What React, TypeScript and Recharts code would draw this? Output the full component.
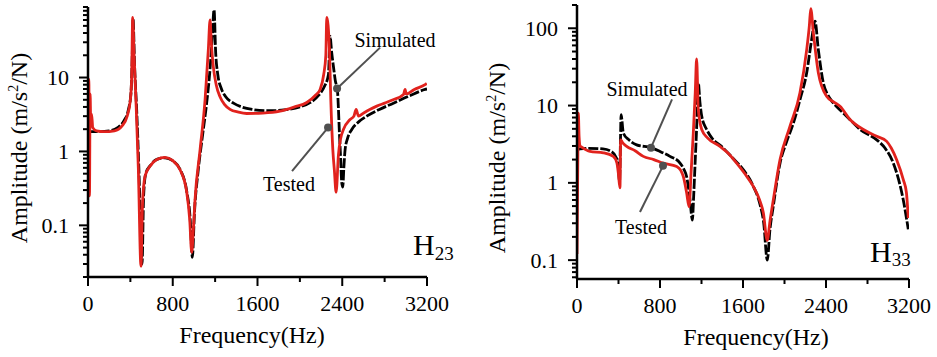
import React from "react";
import { LineChart, Line, XAxis, YAxis, ReferenceLine, ReferenceDot } from "recharts";

// frequency axis (Hz)
const freqTicks = [0, 400, 800, 1200, 1600, 2000, 2400, 2800, 3200];
const freqLabels = [0, 800, 1600, 2400, 3200];

// amplitude axis ticks (log)
const h23Ticks = [
  0.02, 0.03, 0.04, 0.05, 0.06, 0.07, 0.08, 0.09,
  0.1, 0.2, 0.3, 0.4, 0.5, 0.6, 0.7, 0.8, 0.9,
  1, 2, 3, 4, 5, 6, 7, 8, 9,
  10, 20, 30, 40, 50, 60, 70, 80, 90,
];
const h23Labels = [0.1, 1, 10];
const h33Ticks = [
  0.06, 0.07, 0.08, 0.09,
  0.1, 0.2, 0.3, 0.4, 0.5, 0.6, 0.7, 0.8, 0.9,
  1, 2, 3, 4, 5, 6, 7, 8, 9,
  10, 20, 30, 40, 50, 60, 70, 80, 90,
  100, 200,
];
const h33Labels = [0.1, 1, 10, 100];

// H23 simulated
const h23SimFreq = [
  0, 10, 40, 100, 200, 280, 340, 380, 405, 418, 425, 440, 460, 480, 495, 510,
  525, 545, 590, 650, 727, 800, 870, 930, 965, 985, 1005, 1040, 1080, 1120, 1150,
  1170, 1190, 1205, 1225, 1260, 1300, 1373, 1450, 1550, 1700, 1850, 2000, 2100,
  2180, 2230, 2270, 2285, 2300, 2317, 2335, 2354, 2365, 2373, 2385, 2395, 2405,
  2415, 2427, 2450, 2490, 2560, 2631, 2750, 2883, 3030, 3182, 3200,
];
const h23SimAmp = [
  1.8, 1.85, 1.85, 1.85, 1.9, 2.1, 2.6, 3.6, 6, 20, 62, 14, 3.5, 0.6, 0.12, 0.03,
  0.25, 0.5, 0.65, 0.78, 0.82, 0.75, 0.57, 0.3, 0.12, 0.037, 0.15, 0.55, 1.6, 4.5, 12,
  30, 82, 22, 11, 7, 5.5, 4.5, 4.0, 3.7, 3.55, 3.65, 4.0, 4.6,
  5.8, 7.5, 11, 36, 22, 14, 9, 6.9, 3.5, 1.8, 0.8, 0.38, 0.33,
  0.6, 1.06, 1.5, 1.98, 2.55, 3.0, 3.7, 4.5, 5.6, 6.9, 7.0,
];

// H23 tested
const h23TestFreq = [
  0, 8, 14, 20, 26, 34, 45, 80, 150, 250, 320, 370, 400, 412, 422, 435, 455, 475,
  500, 515, 538, 585, 650, 727, 800, 868, 932, 960, 979, 995, 1010, 1058, 1105,
  1136, 1152, 1165, 1183, 1210, 1246, 1290, 1341, 1420, 1498, 1650, 1813, 1950,
  2065, 2150, 2191, 2225, 2245, 2254, 2279, 2292, 2311, 2326, 2342, 2364, 2385,
  2411, 2474, 2510, 2531, 2553, 2600, 2660, 2726, 2800, 2880, 2978, 2993, 3005,
  3080, 3182, 3198,
];
const h23TestAmp = [
  2.0, 9.5, 0.25, 6, 2.4, 3.2, 2.1, 1.9, 1.85, 1.9, 2.2, 3.0, 5, 10, 65, 20, 4, 0.6,
  0.028, 0.2, 0.46, 0.63, 0.78, 0.83, 0.75, 0.57, 0.28, 0.12, 0.043, 0.09, 0.22, 1.06, 5,
  24, 60, 28, 14, 8, 5.5, 4.3, 3.7, 3.4, 3.26, 3.3, 3.5, 4.0,
  4.6, 5.8, 6.9, 11, 20, 65, 24, 5, 1.06, 0.55, 0.28, 0.9, 1.5,
  1.98, 2.7, 3.0, 3.7, 3.0, 3.3, 3.7, 4.1, 4.5, 5.0, 5.9, 6.9, 6.0,
  6.9, 8.0, 8.3,
];

// H33 simulated
const h33SimFreq = [
  0, 10, 30, 100, 250, 330, 380, 400, 410, 418, 425, 447, 500, 575, 713, 800, 896,
  993, 1030, 1057, 1089, 1112, 1125, 1137, 1155, 1169, 1185, 1202, 1250, 1300, 1400,
  1500, 1600, 1700, 1760, 1800, 1834, 1860, 1892, 1957, 2020, 2085, 2150, 2214, 2262,
  2294, 2326, 2374, 2420, 2470, 2567, 2650, 2728, 2889, 2970, 3049, 3100, 3145, 3193,
];
const h33SimAmp = [
  2.6, 2.7, 2.75, 2.8, 2.75, 2.55, 2.1, 1.5, 1.0, 3, 7.6, 4.4, 3.6, 3.1, 2.85, 2.55, 2.2,
  1.8, 1.5, 1.2, 0.6, 0.33, 0.7, 1.63, 6, 19.7, 11, 7.3, 4.9, 3.8, 2.9,
  2.1, 1.5, 0.9, 0.55, 0.3, 0.1, 0.25, 0.5, 1.8, 3.4, 5.9, 12, 26.6, 72,
  124, 53, 19.7, 13.5, 10.8, 8.0, 6.2, 4.9, 3.6, 2.8, 1.8, 1.1, 0.6, 0.25,
];

// H33 tested
const h33TestFreq = [
  0, 8, 13, 20, 30, 45, 125, 254, 350, 385, 398, 414, 421, 440, 479, 560, 639, 740,
  832, 961, 1000, 1025, 1057, 1080, 1100, 1121, 1140, 1153, 1169, 1202, 1260, 1378,
  1460, 1539, 1620, 1699, 1760, 1796, 1834, 1860, 1892, 1957, 2053, 2149, 2214, 2240,
  2253, 2278, 2326, 2406, 2480, 2535, 2631, 2760, 2889, 2985, 3030, 3081, 3145, 3175, 3193,
];
const h33TestAmp = [
  0.12, 2, 8, 4, 3.0, 2.9, 2.55, 2.45, 2.2, 1.8, 1.35, 0.86, 3.6, 3.3, 2.96, 2.6, 2.2, 2.0,
  1.8, 1.63, 1.45, 1.2, 0.74, 0.49, 1.4, 4.4, 15, 40, 8.9, 4.9, 3.8, 2.96,
  2.4, 1.8, 1.3, 0.9, 0.6, 0.41, 0.18, 0.32, 0.6, 2.0, 5.4, 14.6, 53, 110,
  180, 88, 26.6, 13.2, 11, 9.8, 6.6, 4.9, 4.0, 3.44, 2.8, 1.99, 1.1, 0.75, 0.35,
];

// annotation leaders: [label end, point on curve] in data units
const h23SimLeader = [{ x: 2757, y: 25.4 }, { x: 2351, y: 7.1 }];
const h23TestLeader = [{ x: 1926, y: 0.54 }, { x: 2266, y: 2.1 }];
const h33SimLeader = [{ x: 916, y: 12 }, { x: 713, y: 2.85 }];
const h33TestLeader = [{ x: 607, y: 0.42 }, { x: 829, y: 1.66 }];

const RED = "#e1221d";
const GREY = "#505050";
const FONT = "'Liberation Serif', 'Times New Roman', serif";

const toPoints = (f: number[], a: number[]) => f.map((x, i) => ({ f: x, amp: a[i] }));

function YTick(props: any) {
  const { x, y, payload, labels } = props;
  const major = labels.includes(payload.value);
  return (
    <g>
      <line x1={x} x2={x - (major ? 9 : 5)} y1={y} y2={y} stroke="#000" strokeWidth={2} />
      {major && (
        <text x={x - 19} y={y} textAnchor="end" dominantBaseline="central" fontSize={22} fontFamily={FONT} fill="#000">
          {String(payload.value)}
        </text>
      )}
    </g>
  );
}

function XTick(props: any) {
  const { x, y, payload } = props;
  const major = freqLabels.includes(payload.value);
  return (
    <g>
      <line x1={x} x2={x} y1={y} y2={y + (major ? 9 : 5)} stroke="#000" strokeWidth={2} />
      {major && (
        <text x={x} y={y + 34} textAnchor="middle" fontSize={22} fontFamily={FONT} fill="#000">
          {String(payload.value)}
        </text>
      )}
    </g>
  );
}

type PanelProps = {
  width: number;
  margin: { top: number; right: number; bottom: number; left: number };
  yDomain: [number, number];
  yTicks: number[];
  yLabels: number[];
  sim: { f: number; amp: number }[];
  test: { f: number; amp: number }[];
  simLeader: { x: number; y: number }[];
  testLeader: { x: number; y: number }[];
};

function Panel({ width, margin, yDomain, yTicks, yLabels, sim, test, simLeader, testLeader }: PanelProps) {
  return (
    <LineChart width={width} height={357} margin={margin}>
      <XAxis
        type="number"
        dataKey="f"
        domain={[0, 3200]}
        allowDataOverflow
        ticks={freqTicks}
        interval={0}
        tickSize={0}
        tickMargin={0}
        tickLine={false}
        height={50}
        axisLine={{ stroke: "#000", strokeWidth: 2.5 }}
        tick={(p: any) => <XTick {...p} />}
      />
      <YAxis
        type="number"
        scale="log"
        domain={yDomain}
        allowDataOverflow
        ticks={yTicks}
        interval={0}
        tickSize={0}
        tickMargin={0}
        tickLine={false}
        width={60}
        axisLine={{ stroke: "#000", strokeWidth: 2.5 }}
        tick={(p: any) => <YTick {...p} labels={yLabels} />}
      />
      <Line
        data={sim}
        dataKey="amp"
        type="monotone"
        stroke="#000"
        strokeWidth={2.8}
        strokeDasharray="10 2"
        dot={false}
        activeDot={false}
        isAnimationActive={false}
      />
      <Line
        data={test}
        dataKey="amp"
        type="monotone"
        stroke={RED}
        strokeWidth={2.8}
        dot={false}
        activeDot={false}
        isAnimationActive={false}
      />
      <ReferenceLine segment={simLeader} stroke={GREY} strokeWidth={2} ifOverflow="visible" />
      <ReferenceLine segment={testLeader} stroke={GREY} strokeWidth={2} ifOverflow="visible" />
      <ReferenceDot x={simLeader[1].x} y={simLeader[1].y} r={4} fill={GREY} stroke="none" ifOverflow="visible" />
      <ReferenceDot x={testLeader[1].x} y={testLeader[1].y} r={4} fill={GREY} stroke="none" ifOverflow="visible" />
    </LineChart>
  );
}

const centered = (x: number, y: number, size: number): React.CSSProperties => ({
  position: "absolute",
  left: x,
  top: y,
  transform: "translate(-50%, -50%)",
  fontSize: size,
  lineHeight: 1,
  whiteSpace: "nowrap",
});

function AmpLabel({ x, y }: { x: number; y: number }) {
  return (
    <div style={{ ...centered(x, y, 24), transform: "translate(-50%, -50%) rotate(-90deg)" }}>
      Amplitude (m/s<span style={{ fontSize: 14, position: "relative", top: -9 }}>2</span>/N)
    </div>
  );
}

function Title({ left, top, sub, shift }: { left: number; top: number; sub: string; shift: number }) {
  return (
    <div style={{ position: "absolute", left, top, fontSize: 30, lineHeight: "30px", whiteSpace: "nowrap" }}>
      H<span style={{ fontSize: 19, position: "relative", top: shift }}>{sub}</span>
    </div>
  );
}

export default function App() {
  return (
    <div style={{ position: "absolute", left: 0, top: 0, width: 937, height: 357, background: "#fff", fontFamily: FONT, color: "#000" }}>
      <div style={{ position: "absolute", left: 0, top: 0 }}>
        <Panel
          width={470}
          margin={{ top: 7, right: 43, bottom: 30, left: 28 }}
          yDomain={[0.02, 90]}
          yTicks={h23Ticks}
          yLabels={h23Labels}
          sim={toPoints(h23SimFreq, h23SimAmp)}
          test={toPoints(h23TestFreq, h23TestAmp)}
          simLeader={h23SimLeader}
          testLeader={h23TestLeader}
        />
      </div>
      <div style={{ position: "absolute", left: 470, top: 0 }}>
        <Panel
          width={467}
          margin={{ top: 5, right: 28, bottom: 28, left: 47 }}
          yDomain={[0.057, 200]}
          yTicks={h33Ticks}
          yLabels={h33Labels}
          sim={toPoints(h33SimFreq, h33SimAmp)}
          test={toPoints(h33TestFreq, h33TestAmp)}
          simLeader={h33SimLeader}
          testLeader={h33TestLeader}
        />
      </div>

      <AmpLabel x={19} y={148} />
      <AmpLabel x={497} y={158} />
      <div style={centered(252, 335, 24)}>Frequency(Hz)</div>
      <div style={centered(756, 337, 24)}>Frequency(Hz)</div>

      <div style={centered(395, 40, 20)}>Simulated</div>
      <div style={centered(289, 184, 20)}>Tested</div>
      <div style={centered(647, 89, 20)}>Simulated</div>
      <div style={centered(641, 227, 20)}>Tested</div>

      <Title left={413} top={230} sub="23" shift={5} />
      <Title left={870} top={237} sub="33" shift={4} />
    </div>
  );
}
